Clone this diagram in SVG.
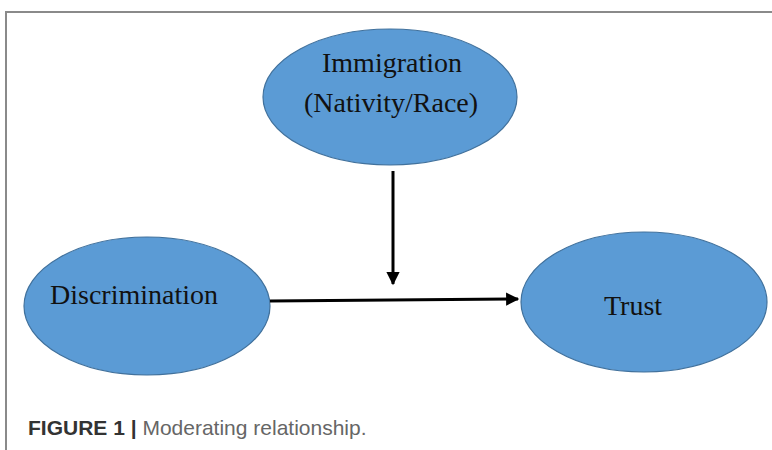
<svg xmlns="http://www.w3.org/2000/svg" width="772" height="450" viewBox="0 0 772 450">
<style>
.node{fill:#5B9BD5;stroke:#41719C;stroke-width:1.2}
.lbl{font-family:"Liberation Serif","Times New Roman",serif;font-size:28px;fill:#111;text-anchor:middle}
.conn{stroke:#000;stroke-width:3;fill:none}
.cap{font-family:"Liberation Sans",Arial,sans-serif;font-size:21px}
</style>
<defs>
<marker id="ah" viewBox="0 0 10 10" refX="9" refY="5" markerWidth="4.6" markerHeight="4.4" markerUnits="strokeWidth" orient="auto">
<path d="M0,0 L10,5 L0,10 z" fill="#000"/>
</marker>
</defs>
<rect width="772" height="450" fill="#fff"/>
<path d="M6,450 L6,12 L772,12" fill="none" stroke="#8a8a8a" stroke-width="2"/>
<g id="immigration">
<ellipse class="node" cx="390" cy="97" rx="127" ry="68"/>
<text class="lbl" x="392" y="72">Immigration</text>
<text class="lbl" x="391" y="112">(Nativity/Race)</text>
</g>
<g id="discrimination">
<ellipse class="node" cx="147" cy="306" rx="123" ry="69"/>
<text class="lbl" x="134" y="304">Discrimination</text>
</g>
<g id="trust">
<ellipse class="node" cx="644" cy="302" rx="123" ry="70"/>
<text class="lbl" x="633" y="315">Trust</text>
</g>
<g id="connectors">
<line class="conn" x1="270" y1="301" x2="518" y2="299" marker-end="url(#ah)"/>
<line class="conn" x1="393" y1="171" x2="393" y2="284" marker-end="url(#ah)"/>
</g>
<text class="cap" x="28" y="435"><tspan font-weight="bold" fill="#333">FIGURE 1</tspan><tspan fill="#333" font-weight="bold"> | </tspan><tspan fill="#666">Moderating relationship.</tspan></text>
</svg>
